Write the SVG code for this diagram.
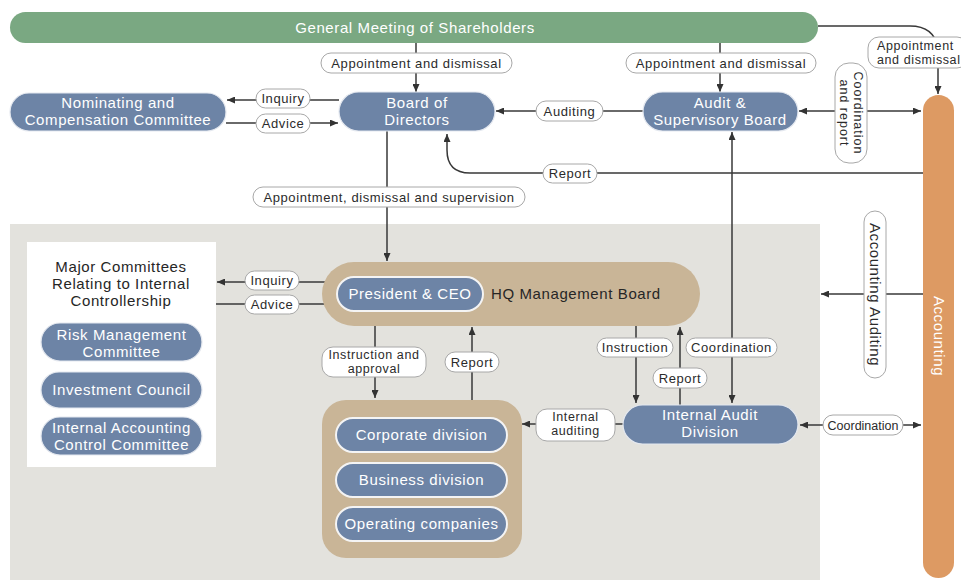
<svg xmlns="http://www.w3.org/2000/svg" width="961" height="580" viewBox="0 0 961 580">
  <defs>
    <marker id="arr" viewBox="0 0 8 7" refX="8" refY="3.5" markerWidth="8" markerHeight="7" markerUnits="userSpaceOnUse" orient="auto-start-reverse">
      <path d="M0,0 L8,3.5 L0,7 z" fill="#333"/>
    </marker>
  </defs>
  <style>
    .ln{fill:none;stroke:#383838;stroke-width:1.5}
    .blue{fill:#6d84a6;stroke:#e4e8ef;stroke-width:1.2}
    .blue2{fill:#6d84a6;stroke:#f4f4f4;stroke-width:2}
    .tan{fill:#c9b597}
    .nt{font-family:"Liberation Sans",Arial,sans-serif;font-size:15px;letter-spacing:0.6px;fill:#fff;text-anchor:middle}
    .dt{font-family:"Liberation Sans",Arial,sans-serif;font-size:15px;letter-spacing:0.6px;fill:#262626;text-anchor:middle}
    .pill{fill:#fff;stroke:#a8a8a8;stroke-width:1}
    .lt{font-family:"Liberation Sans",Arial,sans-serif;font-size:13px;letter-spacing:0.6px;fill:#2b2b2b;text-anchor:middle}
    .l2{font-size:12.5px}
  </style>

  <!-- internal control area -->
  <rect x="10" y="224" width="810" height="356" fill="#e3e2dd"/>
  <rect x="27" y="242" width="189" height="225" fill="#fff"/>

  <!-- connectors -->
  <g id="connectors">
    <path class="ln" d="M416,43 V92" marker-end="url(#arr)"/>
    <path class="ln" d="M720,43 V92" marker-end="url(#arr)"/>
    <path class="ln" d="M818,26 H910 Q934,26 938,48 V94" marker-end="url(#arr)"/>
    <path class="ln" d="M339,100 H227" marker-end="url(#arr)"/>
    <path class="ln" d="M226,123 H338" marker-end="url(#arr)"/>
    <path class="ln" d="M643,111 H496" marker-end="url(#arr)"/>
    <path class="ln" d="M799,111 H921" marker-start="url(#arr)" marker-end="url(#arr)"/>
    <path class="ln" d="M923,173 H470 Q447,173 447,150 V134" marker-end="url(#arr)"/>
    <path class="ln" d="M387,131 V261" marker-end="url(#arr)"/>
    <path class="ln" d="M337,282 H217" marker-end="url(#arr)"/>
    <path class="ln" d="M216,304 H337" marker-end="url(#arr)"/>
    <path class="ln" d="M375,326 V398" marker-end="url(#arr)"/>
    <path class="ln" d="M472,400 V327" marker-end="url(#arr)"/>
    <path class="ln" d="M636,326 V403" marker-end="url(#arr)"/>
    <path class="ln" d="M680,405 V327" marker-end="url(#arr)"/>
    <path class="ln" d="M732,132 V403" marker-start="url(#arr)" marker-end="url(#arr)"/>
    <path class="ln" d="M623,424 H522" marker-end="url(#arr)"/>
    <path class="ln" d="M800,425 H921" marker-start="url(#arr)" marker-end="url(#arr)"/>
    <path class="ln" d="M923,294 H821" marker-end="url(#arr)"/>

    <!-- connector labels -->
    <rect class="pill" x="321" y="53" width="191" height="20" rx="10"/>
    <text class="lt" x="416.5" y="67.5">Appointment and dismissal</text>
    <rect class="pill" x="626" y="53" width="190" height="20" rx="10"/>
    <text class="lt" x="721" y="67.5">Appointment and dismissal</text>
    <rect class="pill" x="868" y="37" width="100" height="31" rx="11"/>
    <text class="lt l2" x="877" y="49.5" style="text-anchor:start">Appointment</text>
    <text class="lt l2" x="877" y="63.5" style="text-anchor:start">and dismissal</text>
    <rect class="pill" x="256" y="89" width="54" height="19" rx="9.5"/>
    <text class="lt" x="283" y="103">Inquiry</text>
    <rect class="pill" x="256" y="114" width="54" height="19" rx="9.5"/>
    <text class="lt" x="283" y="128">Advice</text>
    <rect class="pill" x="536" y="101" width="67" height="20" rx="10"/>
    <text class="lt" x="569.5" y="115.5">Auditing</text>
    <rect class="pill" x="835" y="63" width="32" height="100" rx="14"/>
    <g transform="translate(851,113) rotate(90)">
      <text class="lt l2" x="0" y="-2.5" style="letter-spacing:1px">Coordination</text>
      <text class="lt l2" x="0" y="11" style="letter-spacing:1px">and report</text>
    </g>
    <rect class="pill" x="543" y="164" width="54" height="19" rx="9.5"/>
    <text class="lt" x="570" y="178">Report</text>
    <rect class="pill" x="253" y="187" width="272" height="20" rx="10"/>
    <text class="lt" x="389" y="201.5">Appointment, dismissal and supervision</text>
    <rect class="pill" x="245" y="271" width="54" height="19" rx="9.5"/>
    <text class="lt" x="272" y="285">Inquiry</text>
    <rect class="pill" x="245" y="295" width="54" height="19" rx="9.5"/>
    <text class="lt" x="272" y="309">Advice</text>
    <rect class="pill" x="322" y="347" width="104" height="30" rx="11"/>
    <text class="lt l2" x="374" y="359">Instruction and</text>
    <text class="lt l2" x="374" y="373">approval</text>
    <rect class="pill" x="445" y="352" width="54" height="20" rx="10"/>
    <text class="lt" x="472" y="366.5">Report</text>
    <rect class="pill" x="597" y="338" width="76" height="19" rx="9.5"/>
    <text class="lt" x="635" y="352">Instruction</text>
    <rect class="pill" x="686" y="338" width="91" height="19" rx="9.5"/>
    <text class="lt" x="731.5" y="352">Coordination</text>
    <rect class="pill" x="653" y="368" width="54" height="20" rx="10"/>
    <text class="lt" x="680" y="382.5">Report</text>
    <rect class="pill" x="536" y="409" width="79" height="32" rx="11"/>
    <text class="lt l2" x="575.5" y="421">Internal</text>
    <text class="lt l2" x="575.5" y="435">auditing</text>
    <rect class="pill" x="823" y="415" width="80" height="20" rx="10"/>
    <text class="lt" x="863" y="429.5" style="letter-spacing:0;font-size:12.5px">Coordination</text>
    <rect class="pill" x="864" y="211" width="22" height="167" rx="11"/>
    <text class="lt" transform="translate(875,294.5) rotate(90)" x="0" y="5" style="font-size:15px">Accounting Auditing</text>
  </g>

  <!-- nodes -->
  <g id="gms">
    <rect x="10" y="12" width="808" height="31" rx="15.5" fill="#7aa882"/>
    <text class="nt" x="415" y="33">General Meeting of Shareholders</text>
  </g>
  <g id="accounting">
    <rect x="923" y="95" width="31" height="483" rx="15.5" fill="#dd9a63"/>
    <text class="nt" transform="translate(938.5,336) rotate(90)" x="0" y="5">Accounting</text>
  </g>
  <g id="nominating">
    <rect class="blue" x="10" y="93" width="216" height="38" rx="19"/>
    <text class="nt" x="118" y="108">Nominating and</text>
    <text class="nt" x="118" y="125">Compensation Committee</text>
  </g>
  <g id="board">
    <rect class="blue" x="339" y="92" width="156" height="39" rx="19.5"/>
    <text class="nt" x="417" y="108">Board of</text>
    <text class="nt" x="417" y="125">Directors</text>
  </g>
  <g id="audit-board">
    <rect class="blue" x="643" y="92" width="155" height="39" rx="19.5"/>
    <text class="nt" x="720" y="108">Audit &amp;</text>
    <text class="nt" x="720" y="125">Supervisory Board</text>
  </g>
  <g id="committees">
    <text class="dt" x="121" y="272">Major Committees</text>
    <text class="dt" x="121" y="289">Relating to Internal</text>
    <text class="dt" x="121" y="306">Controllership</text>
    <rect class="blue" x="41" y="323" width="161" height="38" rx="19"/>
    <text class="nt" x="121.5" y="340">Risk Management</text>
    <text class="nt" x="121.5" y="357">Committee</text>
    <rect class="blue" x="41" y="372" width="161" height="36" rx="18"/>
    <text class="nt" x="121.5" y="395">Investment Council</text>
    <rect class="blue" x="41" y="417" width="161" height="38" rx="19"/>
    <text class="nt" x="121.5" y="433">Internal Accounting</text>
    <text class="nt" x="121.5" y="450">Control Committee</text>
  </g>
  <g id="hq-board">
    <rect class="tan" x="322" y="262" width="378" height="64" rx="32"/>
    <rect class="blue2" x="337" y="277" width="146" height="34" rx="17"/>
    <text class="nt" x="410" y="299">President &amp; CEO</text>
    <text class="dt" x="491" y="299" style="text-anchor:start">HQ Management Board</text>
  </g>
  <g id="divisions">
    <rect class="tan" x="322" y="400" width="200" height="158" rx="24"/>
    <rect class="blue2" x="336" y="418" width="171" height="34" rx="17"/>
    <text class="nt" x="421.5" y="440">Corporate division</text>
    <rect class="blue2" x="336" y="463" width="171" height="34" rx="17"/>
    <text class="nt" x="421.5" y="485">Business division</text>
    <rect class="blue2" x="336" y="507" width="171" height="34" rx="17"/>
    <text class="nt" x="421.5" y="529">Operating companies</text>
  </g>
  <g id="internal-audit">
    <rect class="blue" x="623" y="405" width="175" height="39" rx="19.5"/>
    <text class="nt" x="710" y="420">Internal Audit</text>
    <text class="nt" x="710" y="437">Division</text>
  </g>
</svg>
